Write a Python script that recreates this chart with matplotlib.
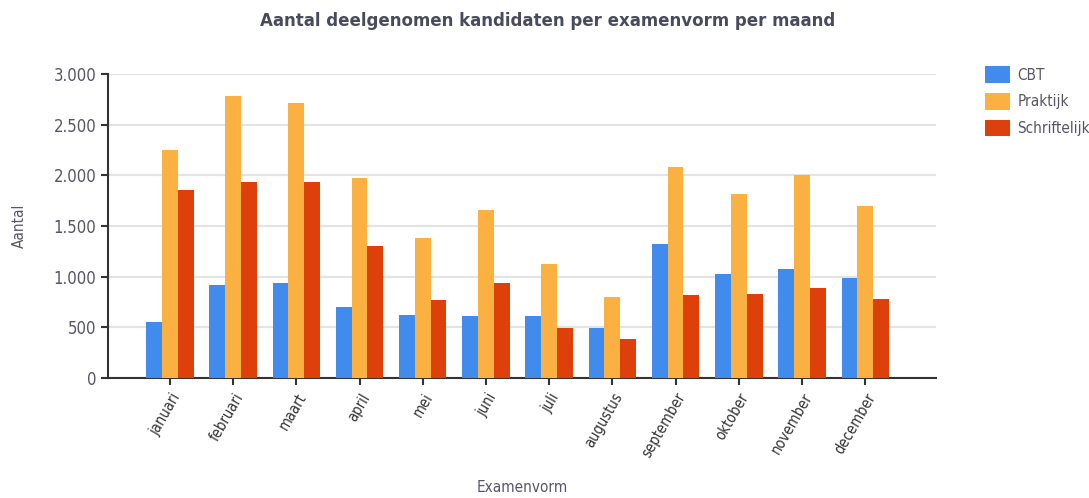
import matplotlib
matplotlib.use("Agg")
import matplotlib.pyplot as plt
import matplotlib.ticker as mticker
import numpy as np

# Data
maanden = ['januari', 'februari', 'maart', 'april', 'mei', 'juni', 'juli',
           'augustus', 'september', 'oktober', 'november', 'december']
cbt = [556, 918, 937, 697, 625, 608, 608, 490, 1322, 1023, 1075, 990]
praktijk = [2250, 2786, 2713, 1973, 1381, 1661, 1128, 799, 2079, 1819, 2006, 1697]
schriftelijk = [1852, 1937, 1937, 1299, 766, 937, 490, 385, 819, 832, 885, 779]

series = [('CBT', cbt, '#418bed'), ('Praktijk', praktijk, '#fbb141'), ('Schriftelijk', schriftelijk, '#de400b')]

plt.rcParams['font.family'] = ['DejaVu Sans']
plt.rcParams['font.stretch'] = 'condensed'
text_color = '#555566'

fig = plt.figure(figsize=(10.89, 4.98), dpi=100)
ax = fig.add_axes([0.0992, 0.241, 0.7603, 0.610])

x = np.arange(len(maanden))
w = 0.25
for i, (name, vals, col) in enumerate(series):
    ax.bar(x + (i - 1) * w, vals, width=w, color=col, label=name, zorder=3)

ax.set_xlim(-0.98, 12.12)
ax.set_ylim(0, 3000)
ax.set_yticks(range(0, 3001, 500))
ax.yaxis.set_major_formatter(mticker.FuncFormatter(lambda v, p: f'{int(v):,}'.replace(',', '.')))
ax.set_xticks(x)
ax.set_xticklabels(maanden, rotation=60, ha='right', rotation_mode='anchor',
                   fontsize=10.5, color=text_color)
ax.tick_params(axis='y', labelsize=12, colors='#333333', labelcolor=text_color, length=5, width=1.5)
ax.tick_params(axis='x', colors='#333333', length=5, width=1.5, pad=4)

ax.grid(axis='y', color='#e3e3e3', linewidth=1.5, zorder=0)
for s in ['top', 'right']:
    ax.spines[s].set_visible(False)
for s in ['left', 'bottom']:
    ax.spines[s].set_color('#333333')
    ax.spines[s].set_linewidth(1.5)

ax.set_ylabel('Aantal', fontsize=11, color=text_color, labelpad=19)
ax.set_xlabel('Examenvorm', fontsize=11, color=text_color, labelpad=14)
fig.suptitle('Aantal deelgenomen kandidaten per examenvorm per maand',
             fontsize=13.3, fontweight='bold', color='#4a4a5e', x=0.503, y=0.975)

fig.legend(loc='upper left', bbox_to_anchor=(0.899, 0.879), frameon=False,
           fontsize=11, labelcolor=text_color, handlelength=1.6, handleheight=1.3,
           handletextpad=0.5, labelspacing=0.65, borderaxespad=0)

fig.savefig('out.png', dpi=100)
